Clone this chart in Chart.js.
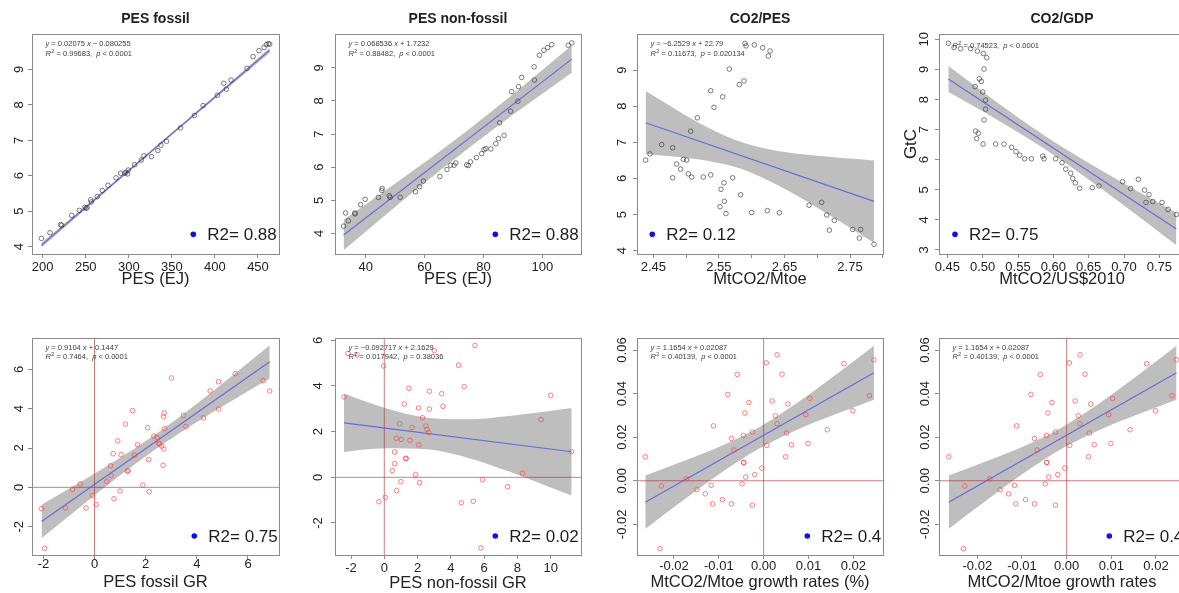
<!DOCTYPE html>
<html>
<head>
<meta charset="utf-8">
<title>CO2 emission drivers: regressions</title>
<script src="https://cdn.jsdelivr.net/npm/chart.js@4.4.1/dist/chart.umd.min.js"></script>
<style>
  html, body { margin: 0; padding: 0; background: #ffffff; }
  #stage { position: relative; width: 1179px; height: 593px; overflow: hidden; background: #ffffff; }
  #stage canvas { position: absolute; }
</style>
</head>
<body>
<div id="stage"></div>
<script>
// ---------------- data ----------------
// Levels: world CO2 emissions (GtC) against each driver
const pesFossil = [198.5, 208.5, 220.9, 222, 233.7, 242.6, 249, 250.3, 251.5, 255.7, 256.5, 263.5, 269.3, 275.9, 285.1, 290.5, 295.6, 296.7, 298.5, 299.4, 306.7, 314.4, 317.5, 326.4, 333.7, 337.2, 343.8, 360, 376.2, 386.3, 402.9, 410.3, 413.3, 418.7, 437.3, 444.3, 451.2, 457, 459.8, 462.1, 463.6];
const gtcFossil = [4.23, 4.39, 4.62, 4.60, 4.88, 5.02, 5.11, 5.08, 5.10, 5.32, 5.26, 5.41, 5.58, 5.73, 5.94, 6.07, 6.07, 6.10, 6.05, 6.16, 6.31, 6.44, 6.56, 6.54, 6.71, 6.86, 6.97, 7.35, 7.70, 7.98, 8.27, 8.61, 8.44, 8.70, 9.03, 9.36, 9.53, 9.62, 9.70, 9.73, 9.71];

const pesNonFossil = [32.5, 33.2, 34.1, 36.3, 36.4, 38.3, 39.8, 44.3, 45.5, 45.6, 48.0, 48.3, 51.7, 56.9, 58.3, 59.6, 65.2, 67.6, 68.8, 70.0, 70.6, 74.3, 74.9, 75.6, 77.6, 79.4, 80.2, 80.8, 82.5, 84.2, 85.1, 85.5, 87.0, 89.2, 89.6, 91.7, 91.9, 93.0, 97.3, 97.2, 99.0, 100.5, 101.8, 103.2, 108.8, 110.0];
const gtcNonFossil = [4.22, 4.62, 4.38, 4.62, 4.59, 4.87, 5.03, 5.09, 5.30, 5.36, 5.14, 5.09, 5.09, 5.26, 5.41, 5.58, 5.72, 5.93, 6.06, 6.06, 6.13, 6.07, 6.05, 6.16, 6.29, 6.41, 6.53, 6.56, 6.55, 6.71, 6.86, 7.34, 6.96, 7.69, 8.28, 7.99, 8.43, 8.71, 8.63, 9.03, 9.38, 9.53, 9.61, 9.70, 9.68, 9.75];

const co2PerPes = [2.4383, 2.4449, 2.4627, 2.4795, 2.4795, 2.4856, 2.4917, 2.4958, 2.5008, 2.5034, 2.5069, 2.5085, 2.5171, 2.5263, 2.5375, 2.5375, 2.5425, 2.5532, 2.5558, 2.5578, 2.5517, 2.5583, 2.5608, 2.5659, 2.5710, 2.5812, 2.5832, 2.5883, 2.5898, 2.5914, 2.6000, 2.6041, 2.6168, 2.6254, 2.6280, 2.6239, 2.6422, 2.6875, 2.7068, 2.7144, 2.7185, 2.7261, 2.7541, 2.7642, 2.7662, 2.7866];
const gtcPerPes = [6.51, 6.68, 6.94, 6.85, 6.02, 6.40, 6.26, 6.53, 6.51, 6.13, 7.31, 6.04, 7.68, 6.04, 8.43, 6.10, 7.97, 5.70, 8.26, 5.88, 5.22, 5.37, 5.03, 9.03, 6.02, 8.60, 5.55, 8.70, 9.74, 9.67, 5.06, 9.70, 9.62, 9.39, 9.53, 5.11, 5.05, 5.26, 5.34, 4.99, 4.57, 4.84, 4.59, 4.35, 4.59, 4.18];

const co2PerGdp = [0.4514, 0.4594, 0.4689, 0.4830, 0.4925, 0.5009, 0.5057, 0.5019, 0.4953, 0.4981, 0.4892, 0.5000, 0.5042, 0.5042, 0.5019, 0.4901, 0.4939, 0.4915, 0.5005, 0.5184, 0.5302, 0.5410, 0.5472, 0.5524, 0.5594, 0.5689, 0.5849, 0.5868, 0.6033, 0.6123, 0.6175, 0.6245, 0.6274, 0.6311, 0.6373, 0.6552, 0.6646, 0.6981, 0.7094, 0.7203, 0.7292, 0.7311, 0.7354, 0.7406, 0.7538, 0.7623, 0.7741];
const gtcPerGdp = [9.87, 9.73, 9.69, 9.69, 9.61, 9.53, 9.39, 9.01, 8.69, 8.60, 8.43, 8.25, 7.98, 7.68, 7.32, 6.95, 6.88, 6.70, 6.52, 6.52, 6.52, 6.41, 6.27, 6.15, 6.03, 6.03, 6.12, 6.03, 6.03, 5.90, 5.69, 5.55, 5.38, 5.23, 5.05, 5.07, 5.13, 5.27, 5.04, 5.35, 4.99, 4.58, 4.84, 4.61, 4.58, 4.35, 4.18];

// Growth rates
const fossilGR = [-2.07, -1.95, -1.13, -0.86, -0.56, -0.33, -0.08, 0.07, 0.48, 0.63, 0.65, 0.73, 0.76, 0.91, 1.00, 1.04, 1.21, 1.28, 1.32, 1.49, 1.56, 1.68, 1.89, 2.08, 2.11, 2.14, 2.32, 2.44, 2.51, 2.54, 2.63, 2.68, 2.71, 2.70, 2.72, 2.74, 3.01, 3.48, 3.57, 4.26, 4.52, 4.85, 4.85, 5.50, 6.59, 6.85];
const co2GrFossil = [-1.08, -3.10, -1.05, -0.10, 0.17, -1.05, -0.41, -0.88, 0.29, 1.10, 0.59, 1.71, -0.58, 2.36, -0.19, 1.66, 3.22, 0.83, 0.83, 3.90, 1.63, 2.17, 0.12, 3.03, 1.41, -0.22, 2.61, 2.53, 2.24, 2.20, 2.10, 1.12, 1.95, 3.59, 3.78, 2.98, 5.56, 3.66, 3.10, 3.53, 4.90, 5.37, 3.98, 5.78, 5.42, 4.90];

const nonFossilGR = [-2.42, -2.18, -1.64, -0.04, -0.32, 0.06, 0.48, 0.62, 0.62, 0.72, 0.74, 0.92, 1.00, 1.02, 1.20, 1.28, 1.32, 1.48, 1.54, 1.66, 1.88, 2.06, 2.08, 2.12, 2.30, 2.50, 2.57, 2.67, 2.71, 2.71, 3.01, 3.45, 3.53, 4.47, 4.63, 4.81, 5.35, 5.45, 5.81, 5.91, 7.41, 8.30, 9.42, 10.0, 11.26];
const co2GrNonFossil = [3.52, 5.43, 5.37, 4.88, -1.07, -0.88, 0.29, 0.60, 1.11, 1.71, -0.58, 2.35, -0.19, 1.66, 3.21, 0.83, 0.83, 3.90, 1.62, 2.18, 0.12, 3.04, 1.42, -0.23, 2.61, 2.25, 2.10, 1.96, 3.77, 2.99, 5.55, 3.66, 3.11, 4.91, -1.11, 3.97, -1.05, 5.78, -3.09, -0.10, -0.41, 0.18, 2.53, 3.59, 1.12];

const intensityGR = [-0.0264, -0.0228, -0.0231, -0.0172, -0.0149, -0.0130, -0.0117, -0.0114, -0.0112, -0.0092, -0.0080, -0.0072, -0.0072, -0.0066, -0.0059, -0.0048, -0.0045, -0.0045, -0.0044, -0.0042, -0.0040, -0.0033, -0.0025, -0.0025, -0.0020, -0.0004, 0.0006, 0.0007, 0.0019, 0.0026, 0.0030, 0.0030, 0.0041, 0.0049, 0.0051, 0.0054, 0.0062, 0.0094, 0.0099, 0.0103, 0.0142, 0.0179, 0.0199, 0.0236, 0.0246];
const co2GrIntensity = [0.0110, -0.0024, -0.0312, 0.0009, -0.0041, -0.0060, -0.0021, -0.0106, 0.0252, -0.0087, 0.0396, -0.0106, 0.0194, 0.0141, 0.0488, -0.0014, 0.0208, 0.0084, 0.0084, 0.0311, 0.0017, 0.0359, 0.0223, -0.0112, 0.0028, 0.0058, 0.0541, 0.0162, 0.0366, 0.0298, 0.0262, 0.0578, 0.0489, 0.0110, 0.0219, 0.0352, 0.0165, 0.0303, 0.0171, 0.0378, 0.0234, 0.0537, 0.0321, 0.0390, 0.0555];

// Fitted lines (slope, intercept) per panel
const fitSlope     = [0.02075, 0.068536, -6.2529, -15.44, 0.9104, -0.092717, 1.1654, 1.1654];
const fitIntercept = [-0.080255, 1.7232, 22.79, 15.65, 0.1447, 2.1629, 0.02087, 0.02087];

// 95% confidence bands of the fits
const bandPesFossilX  = [198.5, 250, 300, 350, 400, 463.6];
const bandPesFossilLo = [3.97, 5.06, 6.11, 7.15, 8.17, 9.47];
const bandPesFossilHi = [4.11, 5.15, 6.18, 7.22, 8.26, 9.61];

const bandNonFossilX  = [32.5, 45, 60, 75, 90, 100, 110];
const bandNonFossilLo = [3.49, 4.43, 5.53, 6.58, 7.58, 8.22, 8.85];
const bandNonFossilHi = [4.41, 5.19, 6.14, 7.14, 8.20, 8.93, 9.67];

const bandPerPesX  = [2.4383, 2.48, 2.53, 2.585, 2.64, 2.70, 2.7866];
const bandPerPesLo = [6.68, 6.61, 6.50, 6.26, 5.81, 5.19, 4.22];
const bandPerPesHi = [8.42, 7.96, 7.44, 7.00, 6.76, 6.63, 6.50];

const bandPerGdpX  = [0.4514, 0.50, 0.55, 0.59, 0.64, 0.70, 0.7741];
const bandPerGdpLo = [8.25, 7.61, 6.91, 6.32, 5.51, 4.48, 3.16];
const bandPerGdpHi = [9.11, 8.26, 7.40, 6.76, 6.03, 5.21, 4.24];

const bandFossilGrX  = [-2.07, -0.5, 1.0, 2.4, 4.0, 5.5, 6.85];
const bandFossilGrLo = [-2.59, -0.93, 0.61, 1.95, 3.32, 4.50, 5.53];
const bandFossilGrHi = [-0.89, 0.31, 1.50, 2.71, 4.25, 5.80, 7.23];

const bandNonFossilGrX  = [-2.42, 0, 2.7, 5.0, 7.5, 9.5, 11.26];
const bandNonFossilGrLo = [1.11, 1.27, 1.22, 0.86, 0.25, -0.30, -0.80];
const bandNonFossilGrHi = [3.66, 3.05, 2.60, 2.54, 2.69, 2.86, 3.04];

const bandIntensityGrX  = [-0.0264, -0.018, -0.009, -0.001, 0.007, 0.016, 0.0246];
const bandIntensityGrLo = [-0.0221, -0.0091, 0.0043, 0.0148, 0.0230, 0.0305, 0.0372];
const bandIntensityGrHi = [0.0024, 0.0089, 0.0164, 0.0246, 0.0351, 0.0485, 0.0619];

// Tick values and labels
const ticksGtC = [4, 5, 6, 7, 8, 9];
const labelsGtC = ['4', '5', '6', '7', '8', '9'];
const ticksGtCWide = [3, 4, 5, 6, 7, 8, 9, 10];
const labelsGtCWide = ['3', '4', '5', '6', '7', '8', '9', '10'];
const ticksPesFossil = [200, 250, 300, 350, 400, 450];
const labelsPesFossil = ['200', '250', '300', '350', '400', '450'];
const ticksPesNonFossil = [40, 60, 80, 100];
const labelsPesNonFossil = ['40', '60', '80', '100'];
const ticksPerPes = [2.45, 2.50, 2.55, 2.60, 2.65, 2.70, 2.75, 2.80];
const labelsPerPes = ['2.45', '', '2.55', '', '2.65', '', '2.75', ''];
const ticksPerGdp = [0.45, 0.50, 0.55, 0.60, 0.65, 0.70, 0.75];
const labelsPerGdp = ['0.45', '0.50', '0.55', '0.60', '0.65', '0.70', '0.75'];
const ticksFossilGr = [-2, 0, 2, 4, 6];
const labelsFossilGr = ['-2', '0', '2', '4', '6'];
const ticksNonFossilGr = [-2, 0, 2, 4, 6, 8, 10];
const labelsNonFossilGr = ['-2', '0', '2', '4', '6', '8', '10'];
const ticksGrowthY = [-2, 0, 2, 4, 6];
const labelsGrowthY = ['-2', '0', '2', '4', '6'];
const ticksRate = [-0.02, -0.01, 0, 0.01, 0.02];
const labelsRate = ['-0.02', '-0.01', '0.00', '0.01', '0.02'];
const ticksRateY = [-0.02, 0, 0.02, 0.04, 0.06];
const labelsRateY = ['-0.02', '0.00', '0.02', '0.04', '0.06'];

// Fit summaries printed in each plot
const eqPesFossil = ['y = 0.02075 x \u2212 0.080255', 'R2 = 0.99683,  p < 0.0001'];
const eqPesNonFossil = ['y = 0.068536 x + 1.7232', 'R2 = 0.88482,  p < 0.0001'];
const eqPerPes = ['y = \u22126.2529 x + 22.79', 'R2 = 0.11673,  p = 0.020134'];
const eqPerGdp = ['R2 = 0.74523,  p < 0.0001'];
const eqFossilGr = ['y = 0.9104 x + 0.1447', 'R2 = 0.7464,  p < 0.0001'];
const eqNonFossilGr = ['y = \u22120.092717 x + 2.1629', 'R2 = 0.017942,  p = 0.38036'];
const eqIntensityGr = ['y = 1.1654 x + 0.02087', 'R2 = 0.40139,  p < 0.0001'];

// ---------------- layout & style ----------------
const FONT = "'Liberation Sans', Arial, Helvetica, sans-serif";
const MARGIN = { left: 44, right: 12, top: 34, bottom: 40 };
const LEVEL_POINT = 'rgba(55,55,55,0.72)';
const GROWTH_POINT = 'rgba(255,70,70,0.78)';

const panels = [
  { box: [32, 34, 279, 254], xRange: [187.6, 474.4], yRange: [3.79, 10.0],
    xTicks: ticksPesFossil, xTickLabels: labelsPesFossil, yTicks: ticksGtC, yTickLabels: labelsGtC,
    xs: pesFossil, ys: gtcFossil, band: [bandPesFossilX, bandPesFossilLo, bandPesFossilHi], fit: 0,
    pointColor: LEVEL_POINT, axesAtZero: false, title: 'PES fossil', xTitle: 'PES (EJ)', yTitle: '',
    eq: eqPesFossil, eqBase: [12, 21.5], r2: 'R2= 0.88',
    yLabOff: 9.4, xLabBase: 17, xTitleBase: 30.3, r2dx: 161.3, r2dy: -19.7 },
  { box: [335, 34, 581, 254], xRange: [29.58, 113.13], yRange: [3.38, 10.02],
    xTicks: ticksPesNonFossil, xTickLabels: labelsPesNonFossil, yTicks: ticksGtC, yTickLabels: labelsGtC,
    xs: pesNonFossil, ys: gtcNonFossil, band: [bandNonFossilX, bandNonFossilLo, bandNonFossilHi], fit: 1,
    pointColor: LEVEL_POINT, axesAtZero: false, title: 'PES non-fossil', xTitle: 'PES (EJ)', yTitle: '',
    eq: eqPesNonFossil, eqBase: [12, 21.5], r2: 'R2= 0.88',
    yLabOff: 12.3, xLabBase: 17, xTitleBase: 30.3, r2dx: 160.3, r2dy: -19.7 },
  { box: [637, 34, 883, 254], xRange: [2.4251, 2.8003], yRange: [3.91, 10.0],
    xTicks: ticksPerPes, xTickLabels: labelsPerPes, yTicks: ticksGtC, yTickLabels: labelsGtC,
    xs: co2PerPes, ys: gtcPerPes, band: [bandPerPesX, bandPerPesLo, bandPerPesHi], fit: 2,
    pointColor: LEVEL_POINT, axesAtZero: false, title: 'CO2/PES', xTitle: 'MtCO2/Mtoe', yTitle: '',
    eq: eqPerPes, eqBase: [12, 21.5], r2: 'R2= 0.12',
    yLabOff: 11, xLabBase: 17, xTitleBase: 30.3, r2dx: 15.3, r2dy: -19.7 },
  { box: [939, 34, 1185, 254], xRange: [0.4382, 0.7863], yRange: [2.867, 10.177],
    xTicks: ticksPerGdp, xTickLabels: labelsPerGdp, yTicks: ticksGtCWide, yTickLabels: labelsGtCWide,
    xs: co2PerGdp, ys: gtcPerGdp, band: [bandPerGdpX, bandPerGdpLo, bandPerGdpHi], fit: 3,
    pointColor: LEVEL_POINT, axesAtZero: false, title: 'CO2/GDP', xTitle: 'MtCO2/US$2010', yTitle: 'GtC',
    eq: eqPerGdp, eqBase: [13.5], r2: 'R2= 0.75',
    yLabOff: 10.6, xLabBase: 17, xTitleBase: 30.3, r2dx: 16, r2dy: -19.7 },
  { box: [32, 338, 279, 555], xRange: [-2.443, 7.212], yRange: [-3.44, 7.593],
    xTicks: ticksFossilGr, xTickLabels: labelsFossilGr, yTicks: ticksGrowthY, yTickLabels: labelsGrowthY,
    xs: fossilGR, ys: co2GrFossil, band: [bandFossilGrX, bandFossilGrLo, bandFossilGrHi], fit: 4,
    pointColor: GROWTH_POINT, axesAtZero: true, title: '', xTitle: 'PES fossil GR', yTitle: '',
    eq: eqFossilGr, eqBase: [11.5, 20.8], r2: 'R2= 0.75',
    yLabOff: 9.4, xLabBase: 12.7, xTitleBase: 31.7, r2dx: 162.3, r2dy: -19 },
  { box: [335, 338, 581, 555], xRange: [-2.962, 11.823], yRange: [-3.402, 6.102],
    xTicks: ticksNonFossilGr, xTickLabels: labelsNonFossilGr, yTicks: ticksGrowthY, yTickLabels: labelsGrowthY,
    xs: nonFossilGR, ys: co2GrNonFossil, band: [bandNonFossilGrX, bandNonFossilGrLo, bandNonFossilGrHi], fit: 5,
    pointColor: GROWTH_POINT, axesAtZero: true, title: '', xTitle: 'PES non-fossil GR', yTitle: '',
    eq: eqNonFossilGr, eqBase: [11.5, 20.8], r2: 'R2= 0.02',
    yLabOff: 12.7, xLabBase: 17, xTitleBase: 33, r2dx: 160.3, r2dy: -19 },
  { box: [637, 338, 883, 555], xRange: [-0.02825, 0.02662], yRange: [-0.03408, 0.06551],
    xTicks: ticksRate, xTickLabels: labelsRate, yTicks: ticksRateY, yTickLabels: labelsRateY,
    xs: intensityGR, ys: co2GrIntensity, band: [bandIntensityGrX, bandIntensityGrLo, bandIntensityGrHi], fit: 6,
    pointColor: GROWTH_POINT, axesAtZero: true, title: '', xTitle: 'MtCO2/Mtoe growth rates (%)', yTitle: '',
    eq: eqIntensityGr, eqBase: [11.5, 20.8], r2: 'R2= 0.4',
    yLabOff: 11, xLabBase: 15, xTitleBase: 32, r2dx: 170.3, r2dy: -19 },
  { box: [939, 338, 1185, 555], xRange: [-0.02858, 0.0265], yRange: [-0.03408, 0.06551],
    xTicks: ticksRate, xTickLabels: labelsRate, yTicks: ticksRateY, yTickLabels: labelsRateY,
    xs: intensityGR, ys: co2GrIntensity, band: [bandIntensityGrX, bandIntensityGrLo, bandIntensityGrHi], fit: 7,
    pointColor: GROWTH_POINT, axesAtZero: true, title: '', xTitle: 'MtCO2/Mtoe growth rates', yTitle: '',
    eq: eqIntensityGr, eqBase: [11.5, 20.8], r2: 'R2= 0.4',
    yLabOff: 10.3, xLabBase: 15, xTitleBase: 32, r2dx: 170.3, r2dy: -19 }
];

// ---------------- drawing helpers ----------------
// Writes a fit summary line, setting y, x, p and R in italics and the 2 of R2 as a superscript.
function drawEquation(ctx, line, x, y) {
  const size = 7.5;
  let cx = x;
  line.split(/( +)/).forEach(tok => {
    if (!tok) return;
    if (/^[xyp]$/.test(tok)) {
      ctx.font = 'italic ' + size + 'px ' + FONT;
      ctx.fillText(tok, cx, y); cx += ctx.measureText(tok).width;
    } else if (tok === 'R2') {
      ctx.font = 'italic ' + size + 'px ' + FONT;
      ctx.fillText('R', cx, y); cx += ctx.measureText('R').width;
      ctx.font = (size * 0.7) + 'px ' + FONT;
      ctx.fillText('2', cx + 0.3, y - 3); cx += ctx.measureText('2').width + 0.6;
    } else {
      ctx.font = size + 'px ' + FONT;
      ctx.fillText(tok, cx, y); cx += ctx.measureText(tok).width;
    }
  });
}

function decorations(p) {
  return {
    id: 'panelDecorations',
    afterDraw(chart) {
      const ctx = chart.ctx, a = chart.chartArea;
      const sx = chart.scales.x, sy = chart.scales.y;
      ctx.save();
      // plot frame
      ctx.strokeStyle = '#8a8a8a';
      ctx.lineWidth = 1;
      ctx.strokeRect(a.left + 0.5, a.top + 0.5, a.right - a.left, a.bottom - a.top);

      ctx.fillStyle = '#222222';
      ctx.textAlign = 'center';
      ctx.textBaseline = 'alphabetic';
      // x tick labels
      ctx.font = '13px ' + FONT;
      p.xTicks.forEach((v, j) => {
        const lab = p.xTickLabels[j];
        if (lab) ctx.fillText(lab, sx.getPixelForValue(v), a.bottom + p.xLabBase);
      });
      // y tick labels, written vertically
      p.yTicks.forEach((v, j) => {
        ctx.save();
        ctx.translate(a.left - p.yLabOff, sy.getPixelForValue(v));
        ctx.rotate(-Math.PI / 2);
        ctx.fillText(p.yTickLabels[j], 0, 0);
        ctx.restore();
      });
      const cx = (a.left + a.right) / 2;
      // axis titles
      ctx.font = '16.5px ' + FONT;
      ctx.fillText(p.xTitle, cx, a.bottom + p.xTitleBase);
      if (p.yTitle) {
        ctx.save();
        ctx.translate(a.left - 23, (a.top + a.bottom) / 2);
        ctx.rotate(-Math.PI / 2);
        ctx.font = '17px ' + FONT;
        ctx.fillText(p.yTitle, 0, 0);
        ctx.restore();
      }
      // panel title
      if (p.title) {
        ctx.font = 'bold 14px ' + FONT;
        ctx.fillText(p.title, cx, a.top - 11.5);
      }
      // fit summary
      ctx.textAlign = 'left';
      ctx.fillStyle = '#3c3c3c';
      p.eq.forEach((line, j) => drawEquation(ctx, line, a.left + 13.5, a.top + p.eqBase[j]));
      // R2 key
      const kx = a.left + p.r2dx, ky = a.bottom + p.r2dy;
      ctx.fillStyle = '#0c0cff';
      ctx.beginPath();
      ctx.arc(kx, ky, 2.8, 0, Math.PI * 2);
      ctx.fill();
      ctx.fillStyle = '#1e1e1e';
      ctx.font = '17px ' + FONT;
      ctx.fillText(p.r2, kx + 14, ky + 6);
      ctx.restore();
    }
  };
}

function axisOptions(range, ticks, isX) {
  return {
    type: 'linear',
    min: range[0],
    max: range[1],
    afterBuildTicks: s => { s.ticks = ticks.map(v => ({ value: v })); },
    afterFit: s => { if (isX) s.height = MARGIN.bottom; else s.width = MARGIN.left; },
    ticks: { display: false },
    grid: { drawOnChartArea: false, drawTicks: true, tickLength: 4, color: '#8a8a8a', tickColor: '#8a8a8a', lineWidth: 1 },
    border: { display: false }
  };
}

const stage = document.getElementById('stage');

panels.forEach(p => {
  const [l, t, r, b] = p.box;
  const w = r - l + MARGIN.left + MARGIN.right;
  const h = b - t + MARGIN.top + MARGIN.bottom;
  const cv = document.createElement('canvas');
  cv.width = w; cv.height = h;
  cv.style.left = (l - MARGIN.left) + 'px';
  cv.style.top = (t - MARGIN.top) + 'px';
  cv.style.width = w + 'px';
  cv.style.height = h + 'px';
  stage.appendChild(cv);

  const xmin = Math.min(...p.xs), xmax = Math.max(...p.xs);
  const k = p.fit;
  const datasets = [
    { type: 'scatter', data: p.xs.map((x, j) => ({ x, y: p.ys[j] })),
      pointStyle: 'circle', pointRadius: 2.3, pointBorderWidth: 0.9,
      borderColor: p.pointColor, backgroundColor: 'rgba(0,0,0,0)', order: 0, clip: false },
    { type: 'line', data: [{ x: xmin, y: fitIntercept[k] + fitSlope[k] * xmin },
                           { x: xmax, y: fitIntercept[k] + fitSlope[k] * xmax }],
      borderColor: 'rgba(90,90,235,0.85)', borderWidth: 1.2, pointRadius: 0, fill: false, order: 1 }
  ];
  if (p.axesAtZero) {
    datasets.push({ type: 'line', data: [{ x: p.xRange[0], y: 0 }, { x: p.xRange[1], y: 0 }],
      borderColor: 'rgba(170,40,40,0.6)', borderWidth: 1, pointRadius: 0, fill: false, order: 2 });
    datasets.push({ type: 'line', data: [{ x: 0, y: p.yRange[0] }, { x: 0, y: p.yRange[1] }],
      borderColor: 'rgba(170,40,40,0.6)', borderWidth: 1, pointRadius: 0, fill: false, order: 2 });
  }
  const [bx, blo, bhi] = p.band;
  datasets.push({ type: 'line', data: bx.map((x, j) => ({ x, y: bhi[j] })),
    fill: '+1', backgroundColor: '#bebebe', borderColor: 'rgba(0,0,0,0)', borderWidth: 0,
    pointRadius: 0, cubicInterpolationMode: 'monotone', order: 3 });
  datasets.push({ type: 'line', data: bx.map((x, j) => ({ x, y: blo[j] })),
    fill: false, borderColor: 'rgba(0,0,0,0)', borderWidth: 0,
    pointRadius: 0, cubicInterpolationMode: 'monotone', order: 3 });

  new Chart(cv.getContext('2d'), {
    type: 'scatter',
    data: { datasets },
    options: {
      responsive: false,
      animation: false,
      devicePixelRatio: 1,
      events: [],
      layout: { padding: { left: 0, top: MARGIN.top, right: MARGIN.right, bottom: 0 } },
      plugins: { legend: { display: false }, tooltip: { enabled: false }, title: { display: false } },
      scales: {
        x: axisOptions(p.xRange, p.xTicks, true),
        y: axisOptions(p.yRange, p.yTicks, false)
      }
    },
    plugins: [decorations(p)]
  });
});
</script>
</body>
</html>
